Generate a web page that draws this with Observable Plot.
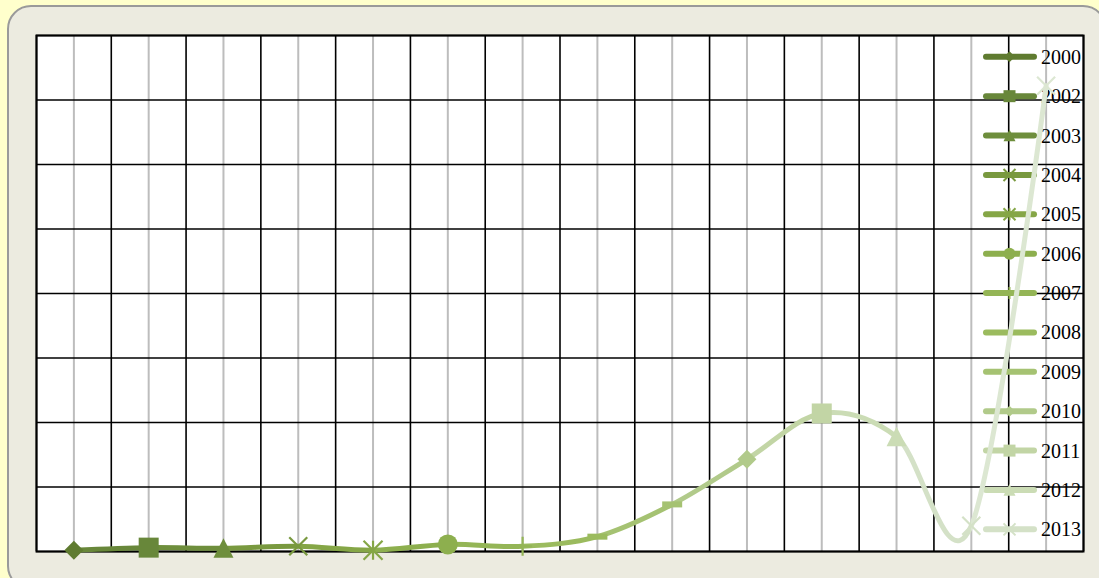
<!DOCTYPE html>
<html><head><meta charset="utf-8">
<script src="https://cdn.jsdelivr.net/npm/d3@7"></script>
<script src="https://cdn.jsdelivr.net/npm/@observablehq/plot@0.6"></script>
<style>
html,body{margin:0;padding:0;background:#ffffcc;width:1099px;height:578px;overflow:hidden;}
#panel{position:absolute;left:7px;top:5px;width:1100px;height:585px;background:#ecebe0;border:2px solid #9a9a9a;border-radius:24px;box-sizing:border-box;}
#chart{position:absolute;left:0;top:0;}
</style></head>
<body><div id="panel"></div><div id="chart"></div>
<script>
// ---- data ----
const legendLabels = ["2000","2002","2003","2004","2005","2006","2007","2008","2009","2010","2011","2012","2013"];
const pointValues = [0.02, 0.06, 0.05, 0.08, 0.02, 0.11, 0.08, 0.23, 0.73, 1.43, 2.14, 1.78, 0.40, 7.22];
const pointColors = ["#5f7b30","#68873a","#6e8e3c","#79993f","#85a646","#8daf4e","#94b556","#9bbb5e","#a5c272","#b1ca8a","#c2d5a5","#cbdcb5","#d4e1c7","#dce7d2"];
const pointMarkers = ["diamond","square","triangle","times","asterisk","circle","plus","dash","dash","diamond","square","triangle","times","times"];
const yGrid = [0,1,2,3,4,5,6,7,8];

// ---- styles ----
const markerRadius = {diamond:9.5, square:10, triangle:10, times:9, asterisk:9.5, circle:10, plus:9.5, dash:10};
const legendRadius = {diamond:5.5, square:6, triangle:6, times:6, asterisk:6, circle:6, plus:6, dash:6};
const strokeOnly = new Set(["times","asterisk","plus"]);
const H = s => Math.sqrt(s / Math.PI);
const symbols = {
  diamond:{draw(c,s){const h=H(s);c.moveTo(0,-h);c.lineTo(h,0);c.lineTo(0,h);c.lineTo(-h,0);c.closePath();}},
  square:{draw(c,s){const h=H(s);c.rect(-h,-h,2*h,2*h);}},
  triangle:{draw(c,s){const h=H(s);c.moveTo(0,-h);c.lineTo(h,h*0.95);c.lineTo(-h,h*0.95);c.closePath();}},
  times:{draw(c,s){const h=H(s);c.moveTo(-h,-h);c.lineTo(h,h);c.moveTo(-h,h);c.lineTo(h,-h);}},
  asterisk:{draw(c,s){const h=H(s);c.moveTo(-h,-h);c.lineTo(h,h);c.moveTo(-h,h);c.lineTo(h,-h);c.moveTo(0,-h);c.lineTo(0,h);}},
  circle:{draw(c,s){const h=H(s);c.moveTo(h,0);c.arc(0,0,h,0,2*Math.PI);}},
  plus:{draw(c,s){const h=H(s);c.moveTo(-h,0);c.lineTo(h,0);c.moveTo(0,-h);c.lineTo(0,h);}},
  dash:{draw(c,s){const h=H(s);c.rect(-h,-h*0.3,2*h,h*0.6);}}
};

const idx = pointValues.map((_, i) => i);
const n = pointValues.length;

function gradientMark(index, scales) {
  const sx = scales.x;
  const x1 = sx(0), x2 = sx(n - 1);
  const defs = d3.create("svg:defs");
  const grad = defs.append("linearGradient").attr("id","segGrad")
    .attr("gradientUnits","userSpaceOnUse").attr("x1",x1).attr("x2",x2).attr("y1",0).attr("y2",0);
  for (let i = 0; i < n - 1; i++) {
    const o0 = (sx(i) - x1) / (x2 - x1), o1 = (sx(i + 1) - x1) / (x2 - x1);
    grad.append("stop").attr("offset", o0).attr("stop-color", pointColors[i + 1]);
    grad.append("stop").attr("offset", o1).attr("stop-color", pointColors[i + 1]);
  }
  return defs.node();
}

function legendMark() {
  const g = d3.create("svg:g").attr("text-anchor","start");
  legendLabels.forEach((lab, i) => {
    const cy = 56.8 + i * 39.38;
    g.append("line").attr("x1",986).attr("x2",1034).attr("y1",cy).attr("y2",cy)
      .attr("stroke",pointColors[i]).attr("stroke-width",6).attr("stroke-linecap","round");
    const m = pointMarkers[i];
    const r = legendRadius[m];
    const p = g.append("path").attr("transform",`translate(1009.5,${cy})`)
      .attr("d", d3.symbol(symbols[m], Math.PI * r * r)());
    if (strokeOnly.has(m)) p.attr("fill","none").attr("stroke",pointColors[i]).attr("stroke-width",2);
    else p.attr("fill",pointColors[i]);
    g.append("text").attr("x",1041).attr("y",cy + 7).attr("text-anchor","start")
      .attr("font-family","'Liberation Serif','Times New Roman',serif")
      .attr("font-size",20).attr("fill","#000").text(lab);
  });
  return g.node();
}

const dotMarks = Object.keys(markerRadius).map(m => {
  const ids = idx.filter(i => pointMarkers[i] === m);
  if (!ids.length) return null;
  const so = strokeOnly.has(m);
  return Plot.dot(ids, {
    x: i => i, y: i => pointValues[i],
    symbol: symbols[m], r: markerRadius[m],
    fill: so ? "none" : (i => pointColors[i]),
    stroke: so ? (i => pointColors[i]) : "none",
    strokeWidth: so ? 2.2 : 0
  });
}).filter(Boolean);

const chart = Plot.plot({
  width: 1099, height: 578,
  marginLeft: 36, marginRight: 16, marginTop: 35, marginBottom: 27,
  style: {background: "transparent", overflow: "visible"},
  x: {domain: [-0.5, n - 0.5], axis: null},
  y: {domain: [0, 8], axis: null},
  color: {type: "identity"},
  marks: [
    Plot.frame({fill: "white", stroke: "none"}),
    Plot.ruleX(idx, {x: i => i, stroke: "#bdbdbd", strokeWidth: 2}),
    Plot.ruleY(yGrid, {stroke: "black", strokeWidth: 1.6}),
    Plot.ruleX(d3.range(n + 1), {x: i => i - 0.5, stroke: "black", strokeWidth: 1.6}),
    Plot.frame({stroke: "black", strokeWidth: 2}),
    gradientMark,
    legendMark,
    Plot.line(idx, {x: i => i, y: i => pointValues[i], curve: "cardinal", stroke: "url(#segGrad)", strokeWidth: 5, strokeLinejoin: "round", strokeLinecap: "round"}),
    ...dotMarks
  ]
});
document.getElementById("chart").appendChild(chart);
</script>
</body></html>
